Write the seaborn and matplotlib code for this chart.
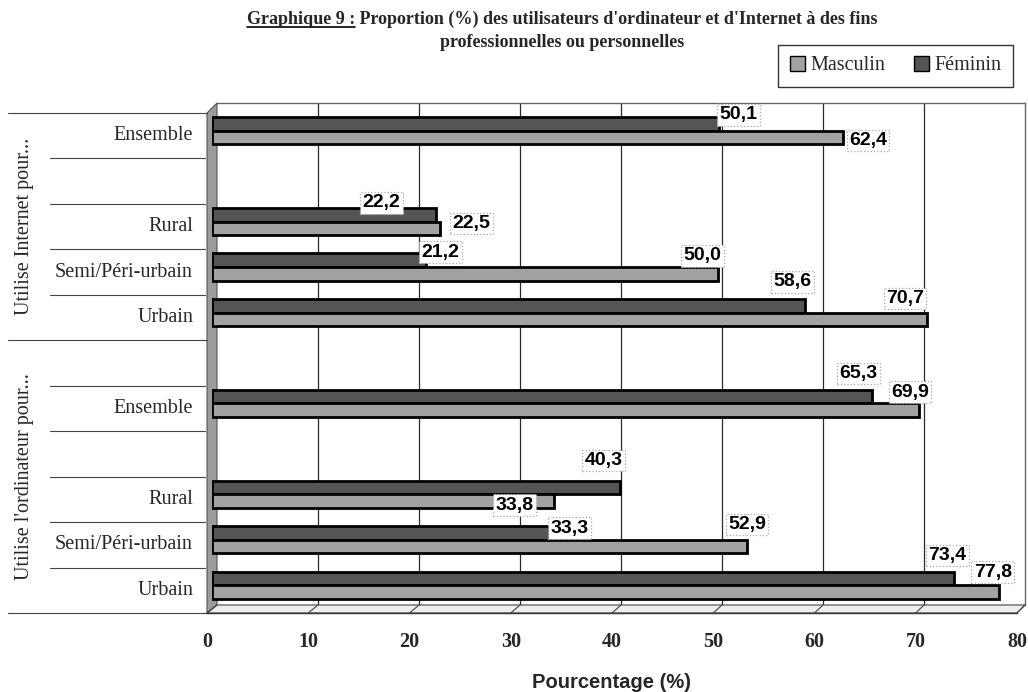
import matplotlib
matplotlib.use("Agg")
import matplotlib.pyplot as plt
from matplotlib.lines import Line2D
from matplotlib.patches import Patch, Polygon
from matplotlib.transforms import blended_transform_factory
import pandas as pd
import seaborn as sns

# ---------------- data ----------------
groupes = ["Internet", "Ordinateur"]
titres_groupes = ["Utilise Internet pour...", "Utilise l'ordinateur pour..."]
# rows of the category axis from top to bottom ("" = empty spacer row)
lignes_internet = ["Ensemble", "", "Rural", "Semi/Péri-urbain", "Urbain"]
lignes_ordinateur = ["", "Ensemble", "", "Rural", "Semi/Péri-urbain", "Urbain"]
milieux = ["Ensemble", "Rural", "Semi/Péri-urbain", "Urbain"]
sexes = ["Masculin", "Féminin"]
internet_masculin = [62.4, 22.5, 50.0, 70.7]
internet_feminin = [50.1, 22.2, 21.2, 58.6]
ordinateur_masculin = [69.9, 33.8, 52.9, 77.8]
ordinateur_feminin = [65.3, 40.3, 33.3, 73.4]
graduations = [0, 10, 20, 30, 40, 50, 60, 70, 80]

# position of each value label relative to the end of its bar (pixels, x right / y down)
decalages = {
    ("Internet", "Ensemble", "Féminin"): (20, -9),
    ("Internet", "Rural", "Féminin"): (-55, -12),
    ("Internet", "Semi/Péri-urbain", "Féminin"): (14, -8),
    ("Internet", "Urbain", "Féminin"): (-12, -24),
    ("Ordinateur", "Ensemble", "Féminin"): (-14, -23),
    ("Ordinateur", "Rural", "Féminin"): (-16, -27),
    ("Ordinateur", "Semi/Péri-urbain", "Féminin"): (21, -5),
    ("Ordinateur", "Urbain", "Féminin"): (-7, -23),
    ("Internet", "Ensemble", "Masculin"): (25, 3),
    ("Internet", "Rural", "Masculin"): (32, -5),
    ("Internet", "Semi/Péri-urbain", "Masculin"): (-15, -18),
    ("Internet", "Urbain", "Masculin"): (-22, -21),
    ("Ordinateur", "Ensemble", "Masculin"): (-9, -18),
    ("Ordinateur", "Rural", "Masculin"): (-39, 4),
    ("Ordinateur", "Semi/Péri-urbain", "Masculin"): (0, -22),
    ("Ordinateur", "Urbain", "Masculin"): (-6, -20),
}

# ---------------- table ----------------
ordre, etiquettes_lignes, groupe_ligne = [], [], []
for g, lignes in zip(groupes, [lignes_internet, lignes_ordinateur]):
    for k, lab in enumerate(lignes):
        ordre.append(f"{g}|{k}|{lab}")
        etiquettes_lignes.append(lab)
        groupe_ligne.append(g)

def cle(g, m):
    lignes = lignes_internet if g == "Internet" else lignes_ordinateur
    return f"{g}|{lignes.index(m)}|{m}"

valeurs = {
    ("Internet", "Masculin"): internet_masculin,
    ("Internet", "Féminin"): internet_feminin,
    ("Ordinateur", "Masculin"): ordinateur_masculin,
    ("Ordinateur", "Féminin"): ordinateur_feminin,
}
enregistrements = []
for (g, s), vals in valeurs.items():
    for m, v in zip(milieux, vals):
        enregistrements.append({"cle": cle(g, m), "groupe": g, "milieu": m,
                                "sexe": s, "valeur": v})
df = pd.DataFrame(enregistrements)

# ---------------- figure ----------------
sns.set_style("white")
plt.rcParams["font.family"] = ["Liberation Serif", "DejaVu Serif"]

W, H = 1028, 692
fig = plt.figure(figsize=(W / 100, H / 100), dpi=100)
fig.patch.set_facecolor("white")


def rect(x0, y0, x1, y1):
    return [x0 / W, 1 - y1 / H, (x1 - x0) / W, (y1 - y0) / H]


def fx(x):
    return x / W


def fy(y):
    return 1 - y / H


SERIF = "Liberation Serif"
SANS = "Liberation Sans"
couleur_f = "#555555"
couleur_m = "#a2a2a2"

# back wall with vertical gridlines
ax_wall = fig.add_axes(rect(217, 103, 1025, 605))
ax_wall.set_zorder(0)
ax_wall.set_xlim(0, 80)
ax_wall.set_ylim(0, 1)
ax_wall.set_facecolor("white")
for t in graduations[1:-1]:
    ax_wall.axvline(t, color="#2a2a2a", lw=0.9)
ax_wall.set_xticks([])
ax_wall.set_yticks([])
for sp in ["left", "bottom"]:
    ax_wall.spines[sp].set_visible(False)
for sp in ["top", "right"]:
    ax_wall.spines[sp].set_color("#666666")
    ax_wall.spines[sp].set_linewidth(1.0)

# bars, drawn at mid depth
ax_bars = fig.add_axes(rect(212, 108, 1021, 608))
ax_bars.set_zorder(2)
ax_bars.patch.set_alpha(0)
sns.barplot(data=df, x="valeur", y="cle", hue="sexe", order=ordre,
            hue_order=["Féminin", "Masculin"], orient="h",
            palette={"Féminin": couleur_f, "Masculin": couleur_m},
            saturation=1, width=0.6, errorbar=None, edgecolor="black",
            linewidth=2.0, legend=False, ax=ax_bars)
ax_bars.set_xlim(0, 80)
ax_bars.set_ylim(len(ordre) - 0.5, -0.5)
ax_bars.axis("off")

# value labels
for patch in ax_bars.patches:
    w = patch.get_width()
    if w <= 0:
        continue
    yc = patch.get_y() + patch.get_height() / 2
    pos = int(round(yc))
    sexe = "Féminin" if yc < pos else "Masculin"
    g, _, m = ordre[pos].split("|")
    v = df[(df.cle == ordre[pos]) & (df.sexe == sexe)].valeur.iloc[0]
    dx, dy = decalages[(g, m, sexe)]
    ax_bars.annotate(f"{v:.1f}".replace(".", ","), xy=(v, yc),
                     xytext=(dx, -dy), textcoords="offset pixels",
                     ha="center", va="center", fontfamily=SANS,
                     fontweight="bold", fontsize=14, color="black",
                     annotation_clip=False, zorder=10,
                     bbox=dict(boxstyle="square,pad=0.12", fc="white",
                               ec="#a8a8a8", ls=":", lw=0.9))

# front plane: x axis and category labels
ax_front = fig.add_axes(rect(207, 113, 1017, 613))
ax_front.set_zorder(3)
ax_front.patch.set_alpha(0)
ax_front.set_xlim(0, 80)
ax_front.set_ylim(len(ordre) - 0.5, -0.5)
ax_front.set_yticks([])
ax_front.set_xticks(graduations)
ax_front.set_xticklabels([str(t) for t in graduations], fontfamily=SERIF,
                         fontweight="bold", fontsize=14.5)
ax_front.tick_params(axis="x", direction="out", length=5.5, width=0.8,
                     color="#333333", pad=8)
for sp in ["left", "top", "right"]:
    ax_front.spines[sp].set_visible(False)
ax_front.spines["bottom"].set_color("#333333")
ax_front.spines["bottom"].set_linewidth(1.0)

# left wall and floor of the 3-D frame
fig.add_artist(Polygon([(fx(207), fy(613)), (fx(207), fy(113)),
                        (fx(217), fy(103)), (fx(217), fy(605))],
                       closed=True, transform=fig.transFigure,
                       fc="#9c9c9c", ec="#555555", lw=0.8, zorder=0.5))
fig.add_artist(Polygon([(fx(207), fy(613)), (fx(217), fy(605)),
                        (fx(1025), fy(605)), (fx(1017), fy(613))],
                       closed=True, transform=fig.transFigure,
                       fc="#eeeeee", ec="#444444", lw=0.8, zorder=0.5))
for t in graduations:
    xf = ax_front.transData.transform((t, 0))[0]
    xb = ax_wall.transData.transform((t, 0))[0]
    fig.add_artist(Line2D([fx(xf), fx(xb)], [fy(613), fy(605)],
                          transform=fig.transFigure, color="#444444",
                          lw=0.8, zorder=0.6))

# category labels and separators
trans_cat = blended_transform_factory(fig.transFigure, ax_front.transData)
for i, lab in enumerate(etiquettes_lignes):
    if lab:
        ax_front.text(fx(193), i, lab, transform=trans_cat, ha="right",
                      va="center", fontfamily=SERIF, fontsize=14.5)
bornes_groupes = [-0.5]
for i in range(1, len(ordre)):
    if groupe_ligne[i] != groupe_ligne[i - 1]:
        bornes_groupes.append(i - 0.5)
bornes_groupes.append(len(ordre) - 0.5)
for i in range(1, len(ordre)):
    b = i - 0.5
    if b not in bornes_groupes:
        fig.add_artist(Line2D([fx(50), fx(205)], [b, b], transform=trans_cat,
                              color="#444444", lw=0.8))
for b in bornes_groupes:
    fig.add_artist(Line2D([fx(8), fx(207)], [b, b], transform=trans_cat,
                          color="#444444", lw=0.8))
for titre, b0, b1 in zip(titres_groupes, bornes_groupes[:-1], bornes_groupes[1:]):
    fig.text(fx(25), 0, titre, transform=trans_cat, rotation=90,
             ha="center", va="center", fontfamily=SERIF, fontsize=14.5)
    fig.texts[-1].set_position((fx(25), (b0 + b1) / 2))

# axis title
fig.text(fx(612), fy(683), "Pourcentage (%)", ha="center", va="center",
         fontfamily=SANS, fontweight="bold", fontsize=14.5)

# legend
poignees = [Patch(fc=couleur_m, ec="black", lw=1.0),
            Patch(fc=couleur_f, ec="black", lw=1.0)]
leg = fig.legend(handles=poignees, labels=sexes, loc="upper right",
                 bbox_to_anchor=(fx(1013), fy(45)), ncol=2, frameon=True,
                 fancybox=False, edgecolor="#333333", framealpha=1,
                 prop={"family": SERIF, "size": 14.5}, handlelength=0.75,
                 handleheight=0.75, handletextpad=0.3, columnspacing=1.4,
                 borderpad=0.55, borderaxespad=0)
leg.get_frame().set_linewidth(1.0)

# title, with the underlined prefix
renderer = fig.canvas.get_renderer()
kw_titre = dict(fontfamily=SERIF, fontweight="bold", fontsize=13,
                va="baseline", ha="left")
ta = fig.text(0, 0, "Graphique 9 :", **kw_titre)
tb = fig.text(0, 0, " Proportion (%) des utilisateurs d'ordinateur et d'Internet à des fins",
              **kw_titre)
wa = ta.get_window_extent(renderer).width
wb = tb.get_window_extent(renderer).width
x0 = 562 - (wa + wb) / 2
yb1 = 24
ta.set_position((fx(x0), fy(yb1)))
tb.set_position((fx(x0 + wa), fy(yb1)))
fig.add_artist(Line2D([fx(x0), fx(x0 + wa)], [fy(yb1 + 3), fy(yb1 + 3)],
                      transform=fig.transFigure, color="black", lw=1.2))
fig.text(fx(562), fy(47), "professionnelles ou personnelles", ha="center",
         va="baseline", fontfamily=SERIF, fontweight="bold", fontsize=13)

fig.savefig("out.png", dpi=100, facecolor="white")
